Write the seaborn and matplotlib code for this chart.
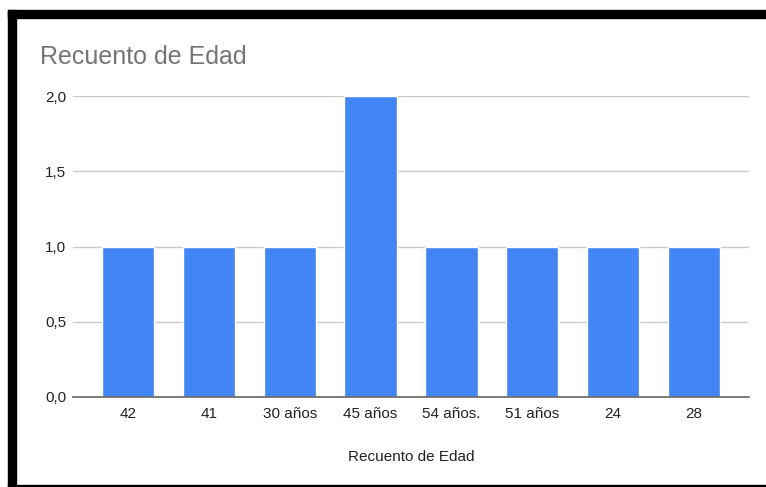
import pandas as pd
import matplotlib.pyplot as plt
import seaborn as sns
from matplotlib.patches import Rectangle
from matplotlib.ticker import FuncFormatter

# Recuento de edades
edades = ["42", "41", "30 años", "45 años", "54 años.", "51 años", "24", "28"]
recuento = [1, 1, 1, 2, 1, 1, 1, 1]

df = pd.DataFrame({"Edad": edades, "Recuento": recuento})

sns.set_style("white")
plt.rcParams['font.family'] = ['Liberation Sans', 'DejaVu Sans']

fig = plt.figure(figsize=(7.66, 4.87), dpi=100)
ax = fig.add_axes([73 / 766, 1 - 397 / 487, 676 / 766, 301 / 487])

sns.barplot(data=df, x="Edad", y="Recuento", order=edades, color="#4285F4",
            saturation=1, width=0.645, ax=ax, zorder=3)

ax.set_ylim(0, 2)
ax.set_xlim(-0.68, 7.68)
ax.set_yticks([0, 0.5, 1.0, 1.5, 2.0])
ax.yaxis.set_major_formatter(FuncFormatter(lambda v, p: f"{v:.1f}".replace(".", ",")))
ax.grid(axis="y", color="#cccccc", linewidth=1, zorder=0)
ax.tick_params(axis="both", length=0, labelsize=11, colors="#222222")
ax.tick_params(axis="y", pad=5)
ax.tick_params(axis="x", pad=7)
for s in ["top", "right", "left"]:
    ax.spines[s].set_visible(False)
ax.spines["bottom"].set_color("#666666")
ax.spines["bottom"].set_linewidth(1.2)
ax.spines["bottom"].set_zorder(4)

ax.set_xlabel("Recuento de Edad", fontsize=11, color="#222222", labelpad=21)
ax.set_ylabel("")

fig.text(40 / 766, 1 - 57 / 487, "Recuento de Edad", fontsize=18, color="#757575",
         va="center", ha="left")

# black frame of the screenshot
fig.patches.append(Rectangle((8 / 766, 1 - 18 / 487), 1, 8 / 487, transform=fig.transFigure,
                             color="black", zorder=10))
fig.patches.append(Rectangle((8 / 766, 0), 8 / 766, 1 - 10 / 487, transform=fig.transFigure,
                             color="black", zorder=10))
fig.patches.append(Rectangle((8 / 766, 0), 1, 2 / 487, transform=fig.transFigure,
                             color="black", zorder=10))

fig.savefig("out.png", dpi=100)
